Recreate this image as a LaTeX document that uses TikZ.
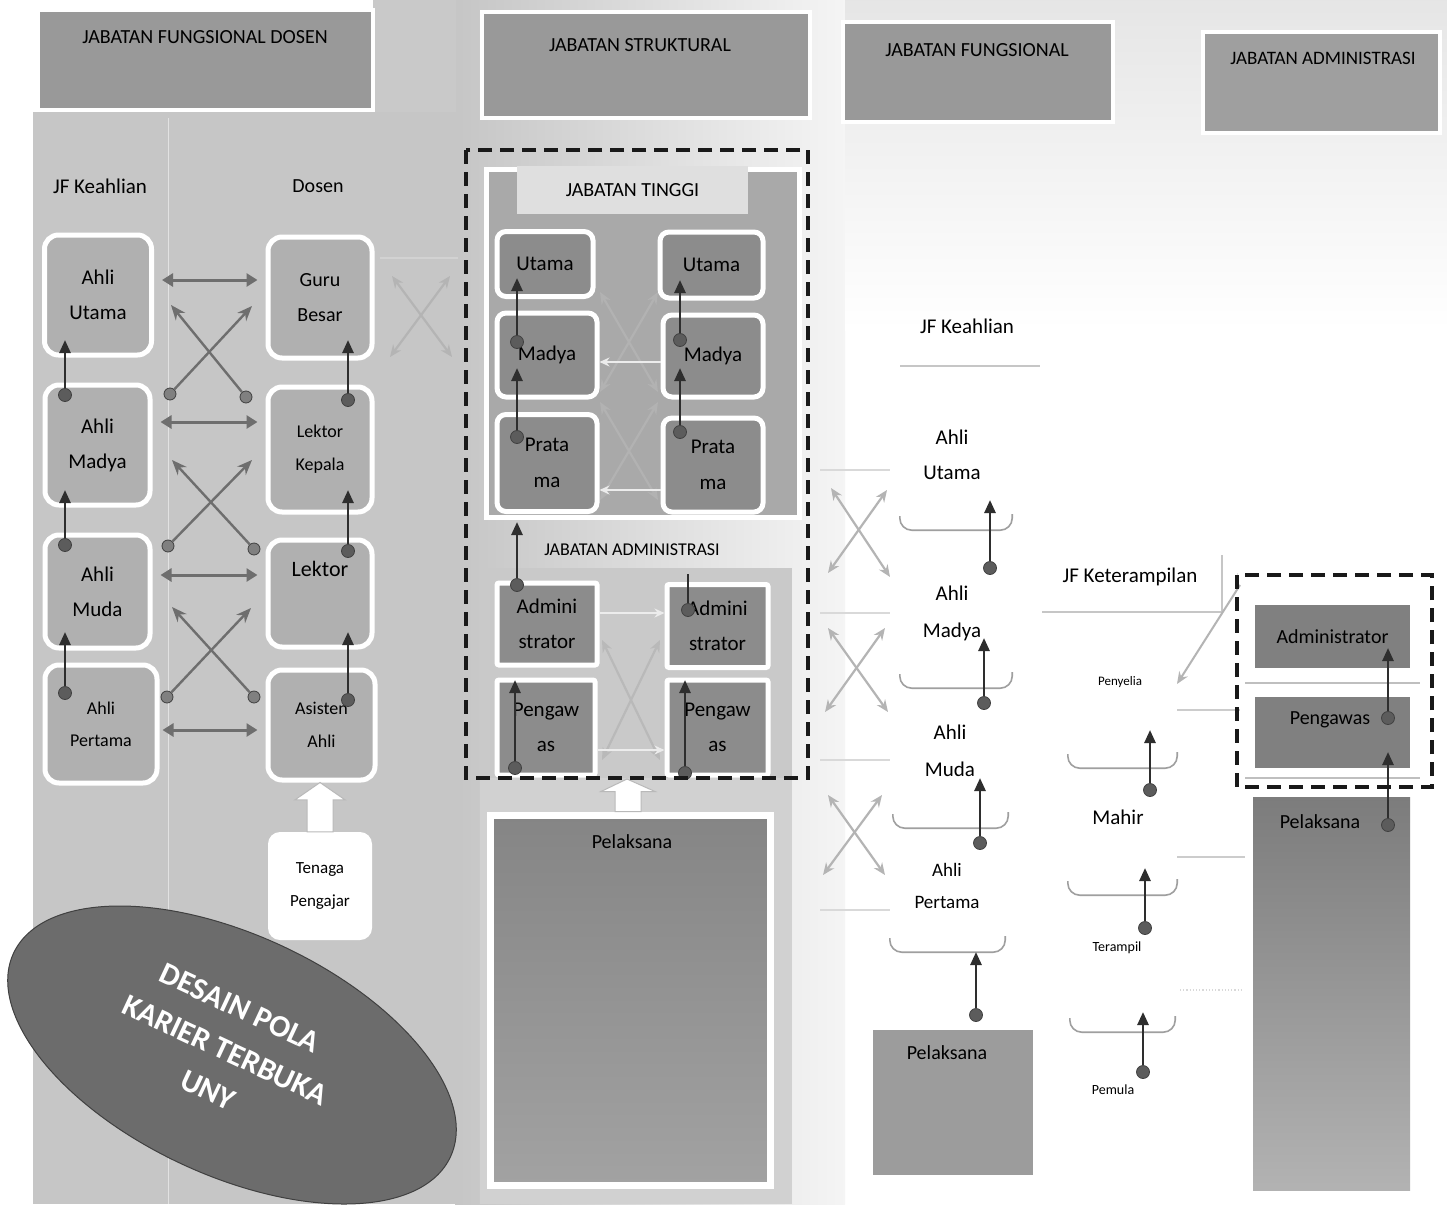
\documentclass[tikz,border=0pt]{standalone}
\usepackage{fontspec}
\setmainfont{Carlito}
\usetikzlibrary{arrows.meta,shapes.geometric,calc}
\definecolor{bgL}{HTML}{C6C6C6}
\definecolor{boxL}{HTML}{B0B0B0}
\definecolor{hdr}{HTML}{999999}
\definecolor{dbox}{HTML}{8C8C8C}
\definecolor{tinggi}{HTML}{A9A9A9}
\definecolor{dotc}{HTML}{5C5C5C}
\definecolor{arc}{HTML}{2E2E2E}
\definecolor{xarr}{HTML}{6E6E6E}
\definecolor{faint}{HTML}{B4B4B4}
\definecolor{ellc}{HTML}{6C6C6C}
\definecolor{peltop}{HTML}{858585}
\definecolor{pelbot}{HTML}{A2A2A2}
\definecolor{rbox}{HTML}{808080}
\definecolor{rpeltop}{HTML}{7C7C7C}
\newcommand{\pxfont}[2]{\fontsize{#1}{#2}\selectfont}
\tikzset{
 lbox/.style={draw=white, line width=5pt, fill=boxL, rounded corners=14pt, align=center, inner sep=0pt, font=\pxfont{21}{35}},
 mbox/.style={draw=white, line width=5pt, fill=dbox, rounded corners=9pt, align=center, inner sep=0pt, font=\pxfont{21}{36}},
 abox/.style={draw=white, line width=5pt, fill=dbox, rounded corners=2pt, align=center, inner sep=0pt, font=\pxfont{21}{35}},
 hdrbox/.style={draw=white, line width=4pt, fill=hdr, inner sep=0pt},
 hdrtxt/.style={font=\pxfont{20}{24}, inner sep=0pt},
 lbl/.style={font=\pxfont{21}{24}, inner sep=0pt},
 dotn/.style={circle, fill=dotc, draw=black!75, line width=0.8pt, minimum size=13pt, inner sep=0pt},
 uparr/.style={draw=arc, line width=2.6pt, -{Triangle[length=13pt,width=11pt]}},
 harr/.style={draw=xarr, line width=3pt, {Triangle[length=11pt,width=13pt]}-{Triangle[length=11pt,width=13pt]}},
 xar/.style={draw=xarr, line width=2.4pt, -{Stealth[length=15pt,width=12pt]}},
 fx/.style={draw=faint, line width=2.2pt, {Stealth[length=12pt,width=10pt]}-{Stealth[length=12pt,width=10pt]}},
 fxw/.style={draw=gray!15, line width=2pt, -{Stealth[length=10pt,width=9pt]}},
 fline/.style={draw=gray!45, line width=1.2pt},
 dashbox/.style={draw=black!90, line width=4pt, dash pattern=on 14pt off 8pt},
 curv/.style={draw=gray!75, line width=1.6pt, rounded corners=12pt},
 blkarr/.style={fill=white, draw=gray!55, line width=1pt},
 wbox/.style={fill=white, inner sep=0pt},
 elltxt/.style={rotate=-25, font=\pxfont{31}{36}\bfseries, text=white, inner sep=0pt},
}
\begin{document}
\begin{tikzpicture}[x=1pt,y=-1pt]
\useasboundingbox (0,0) rectangle (1447,1204);
\fill[white] (0,0) rectangle (1447,1204);
% backdrops
\shade[left color=gray!45, right color=gray!8] (455,0) rectangle (845,1204);
\fill[gray!42] (373,0) rectangle (456,115);
\shade[top color=gray!20, bottom color=white] (845,0) rectangle (1447,330);
\fill[bgL] (33,112) rectangle (462,1204);
\draw[bgL!50!white, line width=1pt] (168,118) -- (168,1204);
\fill[gray!42] (485,568) rectangle (792,778);
\fill[gray!36] (480,778) rectangle (792,1204);

% ---------- headers ----------
\node[hdrbox, minimum width=335, minimum height=100] (h1) at (205.5,60) {};
\node[hdrtxt] (h1t) at (205,37) {JABATAN FUNGSIONAL DOSEN};
\node[hdrbox, minimum width=328, minimum height=106] (h2) at (646,65) {};
\node[hdrtxt] (h2t) at (640,45) {JABATAN STRUKTURAL};
\node[hdrbox, minimum width=270, minimum height=100] (h3) at (978,72) {};
\node[hdrtxt] (h3t) at (977,50) {JABATAN FUNGSIONAL};
\node[hdrbox, fill=gray!75, minimum width=237, minimum height=101] (h4) at (1321.5,82.5) {};
\node[hdrtxt, font=\pxfont{19}{22}] (h4t) at (1323,58) {JABATAN ADMINISTRASI};

% ---------- left panel: Dosen ----------
\node[lbl] (jfk1) at (100,186) {JF Keahlian};
\node[lbl, font=\pxfont{20}{24}] (dos) at (318,186) {Dosen};
\draw[fline] (35,210) -- (165,210);
\draw[fline] (262,212) -- (377,212);

\node[lbox, minimum width=107, minimum height=120] (lu) at (98,295) {Ahli\\Utama};
\node[lbox, minimum width=105, minimum height=120] (lm) at (97.5,445) {Ahli\\Madya};
\node[lbox, minimum width=105, minimum height=113] (lmu) at (97.5,591.5) {Ahli\\Muda};
\node[lbox, minimum width=112, minimum height=118, font=\pxfont{18}{32}] (lp) at (101,724) {Ahli\\Pertama};
\node[lbox, minimum width=104, minimum height=121, font=\pxfont{20}{35}] (gb) at (320,297.5) {Guru\\Besar};
\node[lbox, minimum width=104, minimum height=125, font=\pxfont{18}{33}] (lk) at (320,449.5) {Lektor\\Kepala};
\node[lbox, minimum width=104, minimum height=107, font=\pxfont{22}{40}] (lek) at (320,593.5) {Lektor\\[10pt]\mbox{}};
\node[lbox, minimum width=107, minimum height=110, font=\pxfont{18}{33}] (aa) at (321.5,725) {Asisten\\Ahli};

% vertical promotion arrows
\node[dotn] (dl1) at (65,395) {}; \coordinate (tl1) at (65,340);
\node[dotn] (dl2) at (65,545) {}; \coordinate (tl2) at (65,490);
\node[dotn] (dl3) at (65,693) {}; \coordinate (tl3) at (65,632);
\node[dotn] (dr1) at (348,400) {}; \coordinate (tr1) at (348,340);
\node[dotn] (dr2) at (348,551) {}; \coordinate (tr2) at (348,490);
\node[dotn] (dr3) at (348,700) {}; \coordinate (tr3) at (348,632);
\foreach \a/\b in {dl1/tl1,dl2/tl2,dl3/tl3,dr1/tr1,dr2/tr2,dr3/tr3}{\draw[uparr] (\a) -- (\b);}

% horizontal double arrows
\draw[harr] ($(lu.east)+(8,-15)$) -- ($(gb.west)+(-8,-17.5)$);
\draw[harr] ($(lm.east)+(8,-23)$) -- ($(lk.west)+(-8,-27.5)$);
\draw[harr] ($(lmu.east)+(8,-16.5)$) -- ($(lek.west)+(-8,-18.5)$);
\draw[harr] ($(lp.east)+(3,6)$) -- ($(aa.west)+(-8,5)$);

% crossing arrows
\node[dotn, fill=gray, minimum size=12pt] (xa1) at (170,394) {}; \coordinate (ya1) at (252,306);
\node[dotn, fill=gray, minimum size=12pt] (xb1) at (246,397) {}; \coordinate (yb1) at (171,305);
\node[dotn, fill=gray, minimum size=12pt] (xa2) at (168,546) {}; \coordinate (ya2) at (252,460);
\node[dotn, fill=gray, minimum size=12pt] (xb2) at (254,549) {}; \coordinate (yb2) at (172,460);
\node[dotn, fill=gray, minimum size=12pt] (xa3) at (167,697) {}; \coordinate (ya3) at (251,608);
\node[dotn, fill=gray, minimum size=12pt] (xb3) at (254,697) {}; \coordinate (yb3) at (172,607);
\foreach \a/\b in {xa1/ya1,xb1/yb1,xa2/ya2,xb2/yb2,xa3/ya3,xb3/yb3}{\draw[xar] (\a) -- (\b);}

% faint cross between panels
\coordinate (fq1) at (390,357); \coordinate (fq2) at (450,276);
\coordinate (fq3) at (392,276); \coordinate (fq4) at (452,357);
\draw[fx] (fq1) -- (fq2); \draw[fx] (fq3) -- (fq4);
\draw[fline, draw=gray!35] (380,258) -- (458,258);

% Tenaga Pengajar
\node[wbox, rounded corners=12pt, minimum width=104, minimum height=108, align=center, font=\pxfont{17}{33}] (tp) at (320,886) {Tenaga\\Pengajar};
\draw[blkarr] ($(tp.north)+(-13,0)$) -- ++(0,-32) -- ++(-12,0) -- ($(aa.south)+(-1.5,0)$) -- ($(tp.north)+(25,-32)$) -- ++(-12,0) -- ($(tp.north)+(13,0)$) -- cycle;

% ellipse
\node[ellipse, fill=ellc, draw=gray!50!black, line width=1pt, minimum width=482, minimum height=240, rotate=-25] (ell) at (232,1055) {};
\node[elltxt] (ell1) at (240,1008) {DESAIN POLA};
\node[elltxt] (ell2) at (225,1050) {KARIER TERBUKA};
\node[elltxt] (ell3) at (208,1090) {UNY};

% ---------- middle: struktural ----------
\node[draw=white, line width=5pt, fill=tinggi, minimum width=313, minimum height=348, inner sep=0pt] (jt) at (642.5,343) {};
\node[fill=gray!25, minimum width=231, minimum height=48, inner sep=0pt, font=\pxfont{20}{24}] (jtl) at (632.5,190) {JABATAN TINGGI};

% faint crosses inside Jabatan Tinggi
\coordinate (m1) at (600,292); \coordinate (m2) at (658,392);
\coordinate (m3) at (658,292); \coordinate (m4) at (600,392);
\coordinate (m5) at (600,402); \coordinate (m6) at (658,500);
\coordinate (m7) at (658,402); \coordinate (m8) at (600,500);
\draw[fx, draw=gray!60] (m1) -- (m2); \draw[fx, draw=gray!60] (m3) -- (m4);
\draw[fx, draw=gray!60] (m5) -- (m6); \draw[fx, draw=gray!60] (m7) -- (m8);

\node[mbox, minimum width=96, minimum height=65] (mu1) at (545,264) {Utama};
\node[mbox, minimum width=103, minimum height=66] (mu2) at (711.5,265) {Utama};
\node[mbox, minimum width=100, minimum height=84] (mm1) at (547,355) {Madya};
\node[mbox, minimum width=100, minimum height=82] (mm2) at (713,356) {Madya};
\node[mbox, minimum width=100, minimum height=97] (mp1) at (547,463) {Prata\\ma};
\node[mbox, minimum width=100, minimum height=94] (mp2) at (713,465) {Prata\\ma};

\draw[fxw] (mm2.west |- 0,362) -- (mm1.east |- 0,362);
\draw[fxw] (mp2.west |- 0,490) -- (mp1.east |- 0,490);

\node[dotn] (dm1) at (517,342) {}; \coordinate (tm1) at (517,278);
\node[dotn] (dm2) at (517,437) {}; \coordinate (tm2) at (517,368);
\node[dotn] (dm3) at (680,340) {}; \coordinate (tm3) at (680,280);
\node[dotn] (dm4) at (680,432) {}; \coordinate (tm4) at (680,368);
\foreach \a/\b in {dm1/tm1,dm2/tm2,dm3/tm3,dm4/tm4}{\draw[uparr] (\a) -- (\b);}

% administrasi
\node[font=\pxfont{18}{22}, inner sep=0pt] (jal) at (632,550) {JABATAN ADMINISTRASI};
\coordinate (a1) at (602,640); \coordinate (a2) at (660,760);
\coordinate (a3) at (660,640); \coordinate (a4) at (602,760);
\draw[fx, draw=gray!55] (a1) -- (a2); \draw[fx, draw=gray!55] (a3) -- (a4);
\node[abox, minimum width=100, minimum height=82] (ad1) at (547,624) {Admini\\strator};
\node[abox, minimum width=101, minimum height=83] (ad2) at (717.5,626) {Admini\\strator};
\node[abox, minimum width=98, minimum height=95] (pg1) at (546,727.5) {Pengaw\\as};
\node[abox, minimum width=101, minimum height=95] (pg2) at (717.5,727.5) {Pengaw\\as};
\draw[fxw] (ad1.east |- 0,613) -- (ad2.west |- 0,613);
\draw[fxw] (pg1.east |- 0,750) -- (pg2.west |- 0,750);

\node[dotn] (da1) at (517,585) {}; \coordinate (ta1) at (517,522);
\node[dotn] (da2) at (688,610) {}; \coordinate (ta2) at (688,574);
\node[dotn] (da3) at (515,768) {}; \coordinate (ta3) at (515,680);
\node[dotn] (da4) at (685,773) {}; \coordinate (ta4) at (685,680);
\draw[uparr] (da1) -- (ta1);
\draw[draw=arc, line width=2.6pt] (da2) -- (ta2);
\draw[uparr] (da3) -- (ta3);
\draw[uparr] (da4) -- (ta4);

\draw[dashbox] (466,150) rectangle (808,778);

\node[draw=white, line width=7pt, top color=peltop, bottom color=pelbot, minimum width=280, minimum height=370, inner sep=0pt] (pel1) at (630,1000) {};
\node[font=\pxfont{20}{24}, inner sep=0pt] (pel1t) at (632,842) {Pelaksana};
\coordinate (ba2tip) at (627,779);
\draw[blkarr] ($(pel1.north)+(-15,0)$) -- ++(0,-20) -- ++(-14,0) -- (ba2tip) -- ($(pel1.north)+(25,-20)$) -- ++(-14,0) -- ($(pel1.north)+(11,0)$) -- cycle;

% ---------- right: fungsional ----------
\node[lbl] (jfk2) at (967,326) {JF Keahlian};
\draw[fline] (900,366) -- (1040,366);

% faint crosses
\coordinate (r1) at (831,488); \coordinate (r2) at (890,577);
\coordinate (r3) at (887,490); \coordinate (r4) at (828,573);
\coordinate (r5) at (828,628); \coordinate (r6) at (888,712);
\coordinate (r7) at (885,628); \coordinate (r8) at (825,712);
\coordinate (r9) at (828,795); \coordinate (r10) at (885,875);
\coordinate (r11) at (882,795); \coordinate (r12) at (823,875);
\foreach \a/\b in {r1/r2,r3/r4,r5/r6,r7/r8,r9/r10,r11/r12}{\draw[fx] (\a) -- (\b);}
\foreach \yy in {470,613,760,910}{\draw[fline, draw=gray!30] (820,\yy) -- (890,\yy);}

\node[wbox, minimum width=112, minimum height=130] (fa1) at (956,465) {};
\node[wbox, minimum width=112, minimum height=133] (fa2) at (956,621.5) {};
\node[wbox, minimum width=115, minimum height=128] (fa3) at (950.5,764) {};
\node[wbox, minimum width=115, minimum height=110] (fa4) at (947.5,897) {};
\foreach \n in {fa1,fa2,fa3,fa4}{\draw[curv] ([yshift=14pt]\n.south west) |- (\n.south east) -- ([yshift=16pt]\n.south east);}
\node[align=center, font=\pxfont{21}{35}, inner sep=0pt] (fa1t) at (952,455) {Ahli\\Utama};
\node[align=center, font=\pxfont{21}{37}, inner sep=0pt] (fa2t) at (952,613) {Ahli\\Madya};
\node[align=center, font=\pxfont{21}{37}, inner sep=0pt] (fa3t) at (950,751) {Ahli\\Muda};
\node[align=center, font=\pxfont{19}{32}, inner sep=0pt] (fa4t) at (947,886) {Ahli\\Pertama};

\node[dotn] (df1) at (990,568) {}; \coordinate (tf1) at (990,500);
\node[dotn] (df2) at (984,703) {}; \coordinate (tf2) at (984,638);
\node[dotn] (df3) at (980,843) {}; \coordinate (tf3) at (980,778);
\node[dotn] (df4) at (976,1015) {}; \coordinate (tf4) at (976,952);
\foreach \a/\b in {df1/tf1,df2/tf2,df3/tf3,df4/tf4}{\draw[uparr] (\a) -- (\b);}

\node[fill=gray!78, minimum width=160, minimum height=145, inner sep=0pt] (pel2) at (953,1102.5) {};
\node[font=\pxfont{20}{24}, inner sep=0pt] (pel2t) at (947,1053) {Pelaksana};

% keterampilan
\node[lbl] (jfk3) at (1130,577) {JF Keterampilan};
\draw[fline] (1042,612) -- (1222,612) -- (1222,555);
\node[wbox, minimum width=109, minimum height=128] (fb1) at (1122.5,704) {};
\node[wbox, minimum width=109, minimum height=110] (fb2) at (1122.5,840) {};
\node[wbox, minimum width=105, minimum height=112] (fb3) at (1122.5,976) {};
\foreach \n in {fb1,fb2,fb3}{\draw[curv] ([yshift=14pt]\n.south west) |- (\n.south east) -- ([yshift=16pt]\n.south east);}
\node[font=\pxfont{13}{16}, inner sep=0pt] (fb1t) at (1120,682) {Penyelia};
\node[font=\pxfont{21}{24}, inner sep=0pt] (fb2t) at (1118,817) {Mahir};
\node[font=\pxfont{14}{16}, inner sep=0pt] (fb3t) at (1117,948) {Terampil};
\node[font=\pxfont{14}{16}, inner sep=0pt] (fb4t) at (1113,1090) {Pemula};

\node[dotn] (dk1) at (1150,790) {}; \coordinate (tk1) at (1150,730);
\node[dotn] (dk2) at (1145,928) {}; \coordinate (tk2) at (1145,868);
\node[dotn] (dk3) at (1143,1072) {}; \coordinate (tk3) at (1143,1012);
\foreach \a/\b in {dk1/tk1,dk2/tk2,dk3/tk3}{\draw[uparr] (\a) -- (\b);}

\coordinate (kd1) at (1240,585); \coordinate (kd2) at (1177,684);
\draw[draw=faint, line width=2pt, -{Stealth[length=12pt,width=10pt]}] (kd1) -- (kd2);
\draw[fline, draw=gray!40] (1177,710) -- (1240,710);
\draw[fline, draw=gray!40] (1177,857) -- (1245,857);
\draw[fline, draw=gray!30, dotted] (1180,990) -- (1242,990);

% ---------- right: administrasi ----------
\node[fill=rbox, minimum width=155, minimum height=63, inner sep=0pt, font=\pxfont{20}{24}] (ra1) at (1332.5,636.5) {Administrator};
\node[fill=rbox, minimum width=155, minimum height=71, inner sep=0pt] (ra2) at (1332.5,732.5) {};
\node[font=\pxfont{20}{24}, inner sep=0pt] (ra2t) at (1330,720) {Pengawas};
\draw[fline, draw=gray!50] (1245,683) -- (1420,683);
\draw[fline, draw=gray!50] (1245,778) -- (1420,778);
\node[top color=rpeltop, bottom color=gray!60, minimum width=157, minimum height=393, inner sep=0pt] (rpel) at (1331.5,993.5) {};
\node[font=\pxfont{20}{24}, inner sep=0pt] (rpelt) at (1320,822) {Pelaksana};
\node[dotn] (dx1) at (1388,718) {}; \coordinate (tx1) at (1388,648);
\node[dotn] (dx2) at (1388,825) {}; \coordinate (tx2) at (1388,752);
\draw[uparr] (dx1) -- (tx1);
\draw[uparr] (dx2) -- (tx2);
\draw[dashbox] (1237,575) rectangle (1432,787);
\end{tikzpicture}
\end{document}
